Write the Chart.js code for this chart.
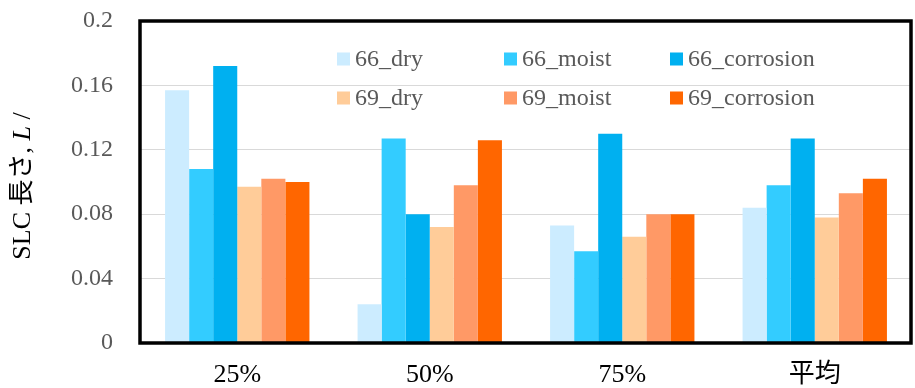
<!DOCTYPE html>
<html>
<head>
<meta charset="utf-8">
<script src="https://cdn.jsdelivr.net/npm/chart.js@4.4.0/dist/chart.umd.min.js"></script>
<style>
  html, body { margin: 0; padding: 0; background: #fff; }
  #wrap { width: 915px; height: 388px; }
</style>
</head>
<body>
<div id="wrap"><canvas id="slcChart" width="915" height="388"></canvas></div>
<script>
// categories and series
const categories = ['25%', '50%', '75%', '平均'];
const seriesNames = ['66_dry', '66_moist', '66_corrosion', '69_dry', '69_moist', '69_corrosion'];
const seriesColors = ['#CCECFF', '#33CCFF', '#00B0F0', '#FFCC99', '#FF9966', '#FF6600'];

const dry66 = [0.157, 0.024, 0.073, 0.084];
const moist66 = [0.108, 0.127, 0.057, 0.098];
const corrosion66 = [0.172, 0.080, 0.130, 0.127];
const dry69 = [0.097, 0.072, 0.066, 0.078];
const moist69 = [0.102, 0.098, 0.080, 0.093];
const corrosion69 = [0.100, 0.126, 0.080, 0.102];

const yTicks = [0, 0.04, 0.08, 0.12, 0.16, 0.2];
const yTickLabels = ['0', '0.04', '0.08', '0.12', '0.16', '0.2'];

const serif = "'Liberation Serif', 'Times New Roman', 'Noto Sans CJK JP', serif";
const seriesValues = [dry66, moist66, corrosion66, dry69, moist69, corrosion69];

// black frame round the plot area
const framePlugin = {
    id: 'frame',
    afterDraw(chart) {
        const { ctx, chartArea: a } = chart;
        ctx.save();
        ctx.strokeStyle = '#000';
        ctx.lineWidth = 3.5;
        ctx.strokeRect(a.left - 1, a.top, a.right - a.left + 1, a.bottom - a.top);
        ctx.restore();
    }
};

// y title with italic L
const yTitlePlugin = {
    id: 'yTitle',
    afterDraw(chart) {
        const { ctx } = chart;
        const parts = [
            { t: 'SLC 長さ, ', f: '26px ' + serif },
            { t: 'L', f: 'italic 26px ' + serif },
            { t: ' /', f: '26px ' + serif }
        ];
        ctx.save();
        let total = 0;
        parts.forEach(p => { ctx.font = p.f; p.w = ctx.measureText(p.t).width; total += p.w; });
        ctx.translate(23, 186);
        ctx.rotate(-Math.PI / 2);
        ctx.fillStyle = '#000';
        ctx.textBaseline = 'middle';
        let x = -total / 2;
        parts.forEach(p => { ctx.font = p.f; ctx.fillText(p.t, x, 0); x += p.w; });
        ctx.restore();
    }
};

// legend inside the plot, 2 rows x 3 columns
const legendPlugin = {
    id: 'innerLegend',
    afterDatasetsDraw(chart) {
        const { ctx } = chart;
        const colX = [337, 504, 670];
        const rowY = [59, 98];
        ctx.save();
        ctx.font = '24px ' + serif;
        ctx.textBaseline = 'middle';
        chart.data.datasets.forEach((ds, i) => {
            const x = colX[i % 3], y = rowY[Math.floor(i / 3)];
            ctx.fillStyle = ds.backgroundColor;
            ctx.fillRect(x, y - 6.5, 13, 13);
            ctx.fillStyle = '#595959';
            ctx.fillText(ds.label, x + 18, y + 1);
        });
        ctx.restore();
    }
};

new Chart(document.getElementById('slcChart').getContext('2d'), {
    type: 'bar',
    data: {
        labels: categories,
        datasets: seriesNames.map((name, i) => ({
            label: name,
            data: seriesValues[i],
            backgroundColor: seriesColors[i],
            borderWidth: 0,
            categoryPercentage: 0.75,
            barPercentage: 1.0
        }))
    },
    options: {
        responsive: false,
        animation: false,
        devicePixelRatio: 1,
        layout: { padding: { left: 0, right: 4, top: 21, bottom: 0 } },
        plugins: { legend: { display: false }, tooltip: { enabled: false } },
        scales: {
            x: {
                grid: { display: false, drawTicks: false },
                border: { display: false },
                ticks: { color: '#000', padding: 17, font: { family: serif, size: 26 } },
                afterFit(scale) { scale.height = 45; scale.paddingLeft = 0; scale.paddingRight = 0; }
            },
            y: {
                min: 0,
                max: 0.2,
                afterBuildTicks(scale) { scale.ticks = yTicks.map(v => ({ value: v })); },
                grid: { color: '#d9d9d9', lineWidth: 1, drawTicks: false },
                border: { display: false },
                ticks: {
                    color: '#595959',
                    padding: 28,
                    font: { family: serif, size: 24 },
                    callback: (v, i) => yTickLabels[i]
                },
                afterFit(scale) { scale.width = 141; scale.paddingTop = 0; scale.paddingBottom = 0; }
            }
        }
    },
    plugins: [framePlugin, yTitlePlugin, legendPlugin]
});
</script>
</body>
</html>
